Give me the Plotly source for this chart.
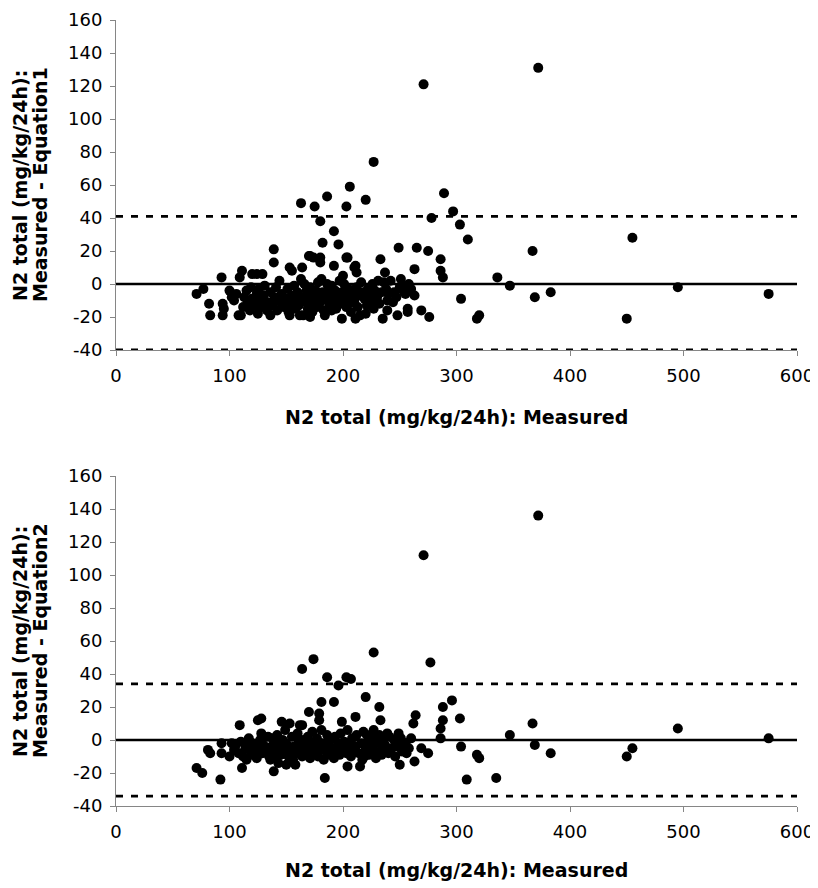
import plotly.graph_objects as go

# ---------- data ----------
# Equation 1: measured N2 total vs (measured - equation1)
x1 = [372, 271, 227, 206, 186, 289, 163, 175, 203, 220, 297, 278, 303, 310, 180, 192, 182, 196,
      367, 249, 265, 275, 286, 233, 204, 211, 212, 192, 171, 174, 263, 286, 288, 336, 347, 383,
      369, 304, 320, 318, 237, 251, 263, 269, 276, 248, 257, 257, 235, 239, 239, 244, 225, 220,
      211, 199, 253, 250, 190, 171, 165, 139, 139, 180, 180, 170, 153, 155, 164, 210, 203, 111,
      109, 93, 120, 124, 129, 455, 450, 495, 575,
      71, 77, 82, 83, 94, 94, 95, 100, 102, 104, 106, 108, 110, 112, 113, 115, 116, 118, 119,
      120, 122, 124, 125, 126, 127, 128, 130, 131, 133, 134, 136, 136, 138, 140, 141, 142, 144,
      145, 146, 148, 150, 151, 152, 153, 154, 155, 157, 158, 159, 160, 161, 162, 163, 164, 166,
      167, 168, 169, 170, 171, 172, 173, 175, 176, 177, 178, 179, 180, 181, 182, 183, 184, 185,
      186, 187, 188, 189, 190, 191, 193, 194, 195, 197, 198, 199, 200, 201, 202, 203, 205, 206,
      207, 208, 209, 210, 212, 213, 214, 215, 216, 218, 219, 221, 222, 224, 226, 227, 228, 230,
      231, 232, 234, 236, 238, 240, 242, 245, 247, 252, 255, 258, 260]
y1 = [131, 121, 74, 59, 53, 55, 49, 47, 47, 51, 44, 40, 36, 27, 38, 32, 25, 24,
      20, 22, 22, 20, 15, 15, 16, 11, 7, 11, 17, 16, 9, 8, 4, 4, -1, -5,
      -8, -9, -19, -21, 7, 3, -7, -16, -20, -19, -17, -15, -21, -16, -10, -11, -11, -18,
      -21, -21, -4, -2, -16, -20, -19, 21, 13, 16, 13, 17, 10, 8, 10, 10, 16, 8,
      4, 4, 6, 6, 6, 28, -21, -2, -6,
      -6, -3, -12, -19, -12, -19, -15, -4, -8, -10, -6, -19, -19, -14, -8, -4, -12, -16, -2,
      -9, -13, -6, -18, -3, -10, -14, -7, -1, -16, -11, -19, -5, -13, -8, -2, -16, 2,
      -11, -6, -14, -9, -3, -17, -19, -12, -7, -1, -15, -10, -5, -13, -19, 3, -8, 0,
      -11, -4, -15, -7, -2, -12, -17, -9, -4, -14, 1, -7, -11, 3, -5, -16, -19, -9,
      0, -3, -13, -6, -1, -10, -4, -15, -8, 2, -12, -5, 5, 0, -9, -14, -3, -7,
      -17, -11, -5, -10, -2, -14, -7, -19, 1, -5, -9, -13, -3, -7, 0, -15, -4, -8,
      2, -12, -5, 1, -3, -6, 2, -5, -8, -1, -6, 0, -3]

# Equation 2: measured N2 total vs (measured - equation2)
x2 = [372, 271, 227, 174, 164, 277, 186, 203, 207, 196, 220, 181, 192, 170, 232, 296, 288, 303,
      288, 286, 286, 264, 262, 233, 211, 164, 199, 179, 179, 367, 347, 369, 383, 304, 318, 320,
      309, 335, 263, 250, 275, 269, 249, 253, 256, 239, 234, 234, 227, 221, 219, 215, 204, 184,
      210, 206, 450, 455, 495, 575,
      71, 76, 81, 83, 92, 93, 93, 100, 102, 104, 109, 111, 115, 117, 118, 125, 128, 128, 133,
      136, 139, 143, 146, 153, 162, 143, 150, 158,
      105, 108, 110, 112, 114, 116, 119, 120, 122, 124, 126, 127, 129, 130, 132, 134, 135, 137,
      138, 140, 141, 142, 144, 145, 147, 148, 149, 151, 152, 154, 155, 156, 157, 159, 160, 161,
      163, 164, 165, 166, 168, 169, 170, 171, 172, 173, 174, 176, 177, 178, 180, 181, 182, 183,
      185, 186, 187, 188, 189, 190, 192, 193, 194, 196, 197, 198, 200, 201, 203, 204, 205, 207,
      208, 209, 211, 212, 214, 216, 217, 218, 220, 222, 223, 225, 226, 228, 229, 231, 232, 235,
      237, 240, 241, 243, 245, 246, 248, 251, 252, 255, 258, 260]
y2 = [136, 112, 53, 49, 43, 47, 38, 38, 37, 33, 26, 23, 23, 17, 20, 24, 20, 13,
      12, 7, 1, 15, 10, 12, 14, 9, 11, 16, 12, 10, 3, -3, -8, -4, -9, -11,
      -24, -23, -13, -15, -8, -5, 4, -3, -8, 4, 0, -9, 6, 3, -10, -16, -16, -23,
      -7, -5, -10, -5, 7, 1,
      -17, -20, -6, -8, -24, -2, -8, -10, -2, -6, 9, -17, -12, 1, -6, 12, 13, 4, -8,
      -12, -19, -3, 11, 10, 9, -14, -15, -15,
      -4, -8, -1, -10, -5, -3, -9, -2, -7, -11, -4, 0, -8, -3, -6, 2, -10, -4,
      1, -7, -11, 3, -5, -9, 0, -6, 6, -3, -10, -7, 2, -12, -4, -8, 4, -1,
      -6, -10, 0, -4, -9, 2, -6, -11, -2, 5, -8, -4, 1, -10, -6, 6, -2, -12,
      -7, 3, -4, -9, 0, -5, -11, 2, -6, -2, -9, 4, -5, -1, -8, 6, -3, -10,
      1, -6, -4, 3, -8, -2, -12, 5, -6, -1, -9, -4, 1, -7, -11, -2, 3, -6,
      -3, -8, 2, -5, 0, -10, -4, 1, -7, -2, -5, 1]

# reference lines: [mean line, upper limit, lower limit]
line_x = [0, 600]
limits1 = [0, 41, -40]
limits2 = [0, 34, -34]

x_ticks = [0, 100, 200, 300, 400, 500, 600]
y_ticks = [-40, -20, 0, 20, 40, 60, 80, 100, 120, 140, 160]
y_tick_labels = ["-40", "-20", "0", "20", "40", "60", "80", "100", "120", "140", "160"]

x_title = "N2 total (mg/kg/24h): Measured"
y_title_line1 = "N2 total (mg/kg/24h):"
y_title_line2 = ["Measured - Equation1", "Measured - Equation2"]

# ---------- figure ----------
FONT = "Verdana, DejaVu Sans, sans-serif"
fig = go.Figure()

panels = [(x1, y1, limits1, "x", "y"), (x2, y2, limits2, "x2", "y2")]
for xs, ys, lims, xa, ya in panels:
    fig.add_trace(go.Scatter(x=line_x, y=[lims[0]] * 2, mode="lines",
                             line=dict(color="black", width=2.5),
                             xaxis=xa, yaxis=ya, showlegend=False, hoverinfo="skip"))
    for v in lims[1:]:
        fig.add_trace(go.Scatter(x=line_x, y=[v] * 2, mode="lines",
                                 line=dict(color="black", width=2.8, dash="7px,8px"),
                                 xaxis=xa, yaxis=ya, showlegend=False, hoverinfo="skip",
                                 cliponaxis=False))
    fig.add_trace(go.Scatter(x=xs, y=ys, mode="markers",
                             marker=dict(color="black", size=10, line=dict(width=0)),
                             xaxis=xa, yaxis=ya, showlegend=False))

# page body has an 8px margin; figure is sized so plot area lands at the reference pixels
OFF = 8
FIG_W, FIG_H = 818 - OFF, 888 - OFF
PLOT_L, PLOT_R, PLOT_T, PLOT_B = 116, 797, 20, 806
M_L = PLOT_L - OFF
M_T = PLOT_T - OFF
M_R = FIG_W + OFF - PLOT_R
M_B = FIG_H + OFF - PLOT_B
PLOT_H = PLOT_B - PLOT_T
PLOT_W = PLOT_R - PLOT_L


def py2paper(py):
    return (PLOT_B - py) / PLOT_H


def px2paper(px):
    return (px - PLOT_L) / PLOT_W


axis_common = dict(showline=True, linecolor="#868686", linewidth=1,
                   ticks="outside", ticklen=5, tickcolor="#868686",
                   showgrid=False, zeroline=False, automargin=False,
                   ticklabelstandoff=4,
                   tickfont=dict(family=FONT, size=18, color="black"))

fig.update_layout(
    template="none",
    width=FIG_W, height=FIG_H,
    margin=dict(l=M_L, r=M_R, t=M_T, b=M_B, autoexpand=False),
    paper_bgcolor="white", plot_bgcolor="white",
    xaxis=dict(domain=[0, 1], range=[0, 600], tickvals=x_ticks, anchor="y", **axis_common),
    yaxis=dict(domain=[py2paper(350), 1], range=[-40, 160], tickvals=y_ticks,
               ticktext=y_tick_labels, anchor="x", **axis_common),
    xaxis2=dict(domain=[0, 1], range=[0, 600], tickvals=x_ticks, anchor="y2", **axis_common),
    yaxis2=dict(domain=[0, py2paper(476)], range=[-40, 160], tickvals=y_ticks,
                ticktext=y_tick_labels, anchor="x2", **axis_common),
)

annots = []
for py_title in (417, 870):
    annots.append(dict(text="<b>" + x_title + "</b>", xref="paper", yref="paper",
                       x=px2paper(456), y=py2paper(py_title),
                       xanchor="center", yanchor="middle", showarrow=False,
                       font=dict(family=FONT, size=19, color="black")))
for py_c, line2 in zip((185, 641), y_title_line2):
    for px_c, t in ((20, y_title_line1), (40, line2)):
        annots.append(dict(text="<b>" + t + "</b>",
                           xref="paper", yref="paper", x=px2paper(px_c), y=py2paper(py_c),
                           xanchor="center", yanchor="middle", textangle=-90, showarrow=False,
                           font=dict(family=FONT, size=19, color="black")))
fig.update_layout(annotations=annots)

fig.write_html("out.html")
